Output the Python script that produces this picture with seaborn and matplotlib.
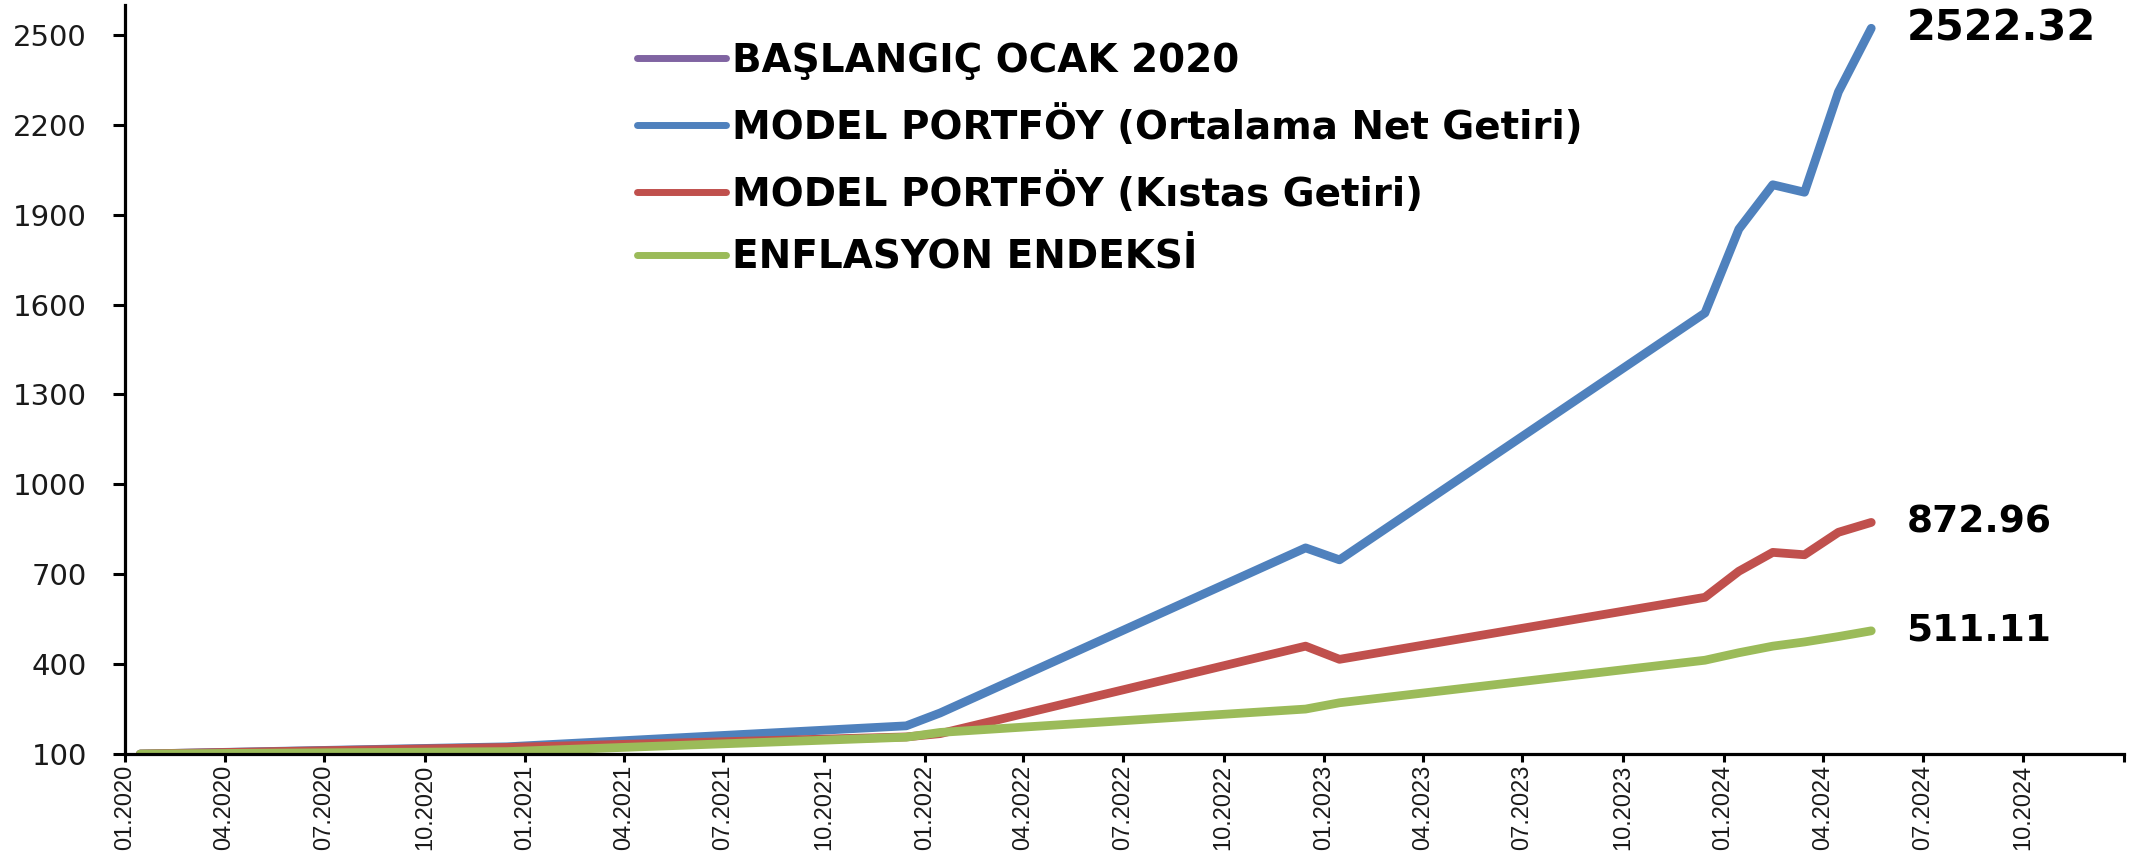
import matplotlib
matplotlib.use("Agg")
import matplotlib.pyplot as plt
import seaborn as sns
import pandas as pd

# ---------------- data ----------------
dates = ["2020-01-15", "2020-12-15", "2021-12-15", "2022-01-15", "2022-12-15",
         "2023-01-15", "2023-12-15", "2024-01-15", "2024-02-15", "2024-03-15",
         "2024-04-15", "2024-05-15"]
start_dates = ["2020-01-15"]
start_vals = [100]
net_getiri = [100, 124, 194, 237, 788, 748, 1572, 1852, 2000, 1975, 2310, 2522.32]
kistas_getiri = [100, 122, 157, 168, 460, 416, 623, 710, 773, 765, 840, 872.96]
enflasyon = [100, 108, 156, 172, 250, 271, 413, 438, 460, 474, 492, 511.11]

series_names = ["BAŞLANGIÇ OCAK 2020",
                "MODEL PORTFÖY (Ortalama Net Getiri)",
                "MODEL PORTFÖY (Kıstas Getiri)",
                "ENFLASYON ENDEKSİ"]
colors = ["#8064A2", "#4F81BD", "#C0504D", "#9BBB59"]
y_ticks = [100, 400, 700, 1000, 1300, 1600, 1900, 2200, 2500]
tick_dates = pd.date_range("2020-01-01", "2025-01-01", freq="3MS")
tick_labels = [d.strftime("%m.%Y") for d in tick_dates[:-1]] + [""]

# ---------------- frame ----------------
frames = [pd.DataFrame({"date": pd.to_datetime(start_dates), "value": start_vals,
                        "series": series_names[0]})]
for name, vals in zip(series_names[1:], [net_getiri, kistas_getiri, enflasyon]):
    frames.append(pd.DataFrame({"date": pd.to_datetime(dates), "value": vals,
                                "series": name}))
df = pd.concat(frames, ignore_index=True)

sns.set_style("ticks")
plt.rcParams["font.family"] = ["DejaVu Sans"]
plt.rcParams["text.color"] = "black"

W, H = 2151, 855
fig = plt.figure(figsize=(W / 100, H / 100), dpi=100)
ax = fig.add_axes([125 / W, 1 - 754 / H, (2124 - 125) / W, (754 - 5) / H])

sns.lineplot(data=df, x="date", y="value", hue="series", hue_order=series_names,
             palette=colors, estimator=None, linewidth=6.3, ax=ax,
             solid_capstyle="round", solid_joinstyle="round", sort=True)

ax.set_xlim(pd.Timestamp("2020-01-01"), pd.Timestamp("2025-01-01"))
ax.set_ylim(100, 2600)
ax.set_yticks(y_ticks)
ax.set_xticks(tick_dates)
ax.set_xticklabels(tick_labels)
ax.set_xlabel("")
ax.set_ylabel("")

for s in ["top", "right"]:
    ax.spines[s].set_visible(False)
for s in ["left", "bottom"]:
    ax.spines[s].set_linewidth(2.3)
    ax.spines[s].set_color("black")

ax.tick_params(axis="y", length=8.5, width=2.2, pad=19, labelsize=21, colors="black",
               labelcolor="#1a1a1a")
ax.tick_params(axis="x", length=6, width=2.2, pad=2, labelsize=17, colors="black",
               labelcolor="#1a1a1a")
for lab in ax.get_xticklabels():
    lab.set_rotation(90)
    lab.set_family(["Liberation Sans", "DejaVu Sans"])
    lab.set_va("top")
    lab.set_ha("center")

# end labels drawn from data
label_sizes = [30, 27, 27]
for vals, fs in zip([net_getiri, kistas_getiri, enflasyon], label_sizes):
    ax.annotate(f"{vals[-1]:.2f}", xy=(pd.Timestamp(dates[-1]), vals[-1]),
                xytext=(35, 0), textcoords="offset pixels", ha="left", va="center",
                fontsize=fs, fontweight="bold", color="black",
                annotation_clip=False)

handles, labels = ax.get_legend_handles_labels()
leg = ax.legend(handles, labels, loc="upper left",
                bbox_to_anchor=(637 / W, 1 - 42 / H), bbox_transform=fig.transFigure,
                frameon=False, borderpad=0, borderaxespad=0,
                prop={"family": "DejaVu Sans", "weight": "bold", "size": 28},
                handlelength=2.3, handletextpad=0.15, labelspacing=0.64)
for t in leg.get_texts():
    t.set_color("black")
for h in leg.get_lines():
    h.set_linewidth(5)
    h.set_solid_capstyle("round")

fig.savefig("out.png", dpi=100, facecolor="white")
